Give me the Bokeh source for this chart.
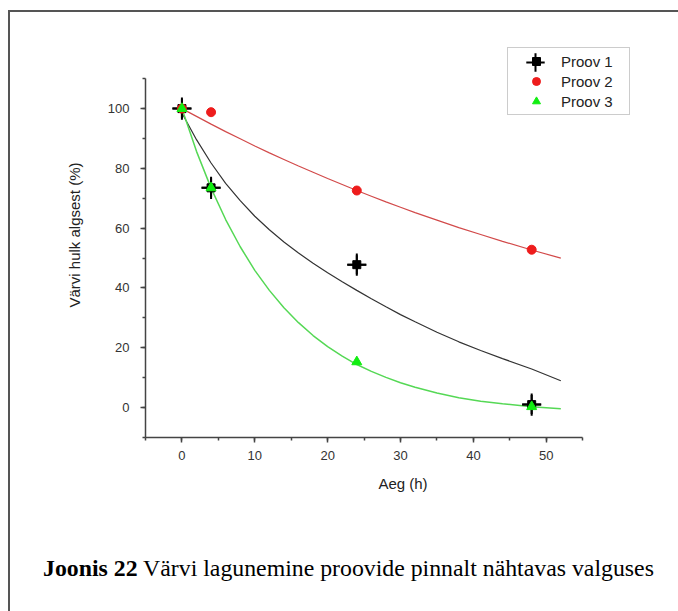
from bokeh.plotting import figure
from bokeh.layouts import column
from bokeh.models import (Range1d, SingleIntervalTicker, Legend, LegendItem,
                          ColumnDataSource, Div)
from bokeh.embed import file_html
from bokeh.resources import INLINE

# ---- data ----
time_h = [0, 4, 24, 48]
proov1 = [100, 73.5, 47.8, 1.0]
proov1_xerr = [1.3, 1.3, 1.3, 1.3]
proov1_yerr = [3.7, 3.7, 3.7, 3.7]
proov2 = [100, 98.8, 72.6, 52.8]
proov3 = [100, 73.5, 15.3, 0.3]

# fitted curves
fit_x = [0, 2, 4, 6, 8, 10, 12, 14, 16, 18, 20, 22, 24, 26, 28, 30, 32, 35, 38, 41, 44, 48, 52]
fit1 = [98.5, 89.6, 81.8, 75.0, 69.2, 64.0, 59.5, 55.4, 51.7, 48.3, 45.1, 42.1, 39.2,
        36.4, 33.7, 31.1, 28.7, 25.2, 22.0, 19.1, 16.4, 12.9, 9.0]
fit2 = [100, 97.4, 94.8, 92.3, 89.9, 87.5, 85.2, 83.0, 80.8, 78.7, 76.6, 74.6, 72.6,
        70.7, 68.8, 67.0, 65.2, 62.7, 60.2, 57.9, 55.6, 52.7, 50.0]
fit3 = [100, 85.7, 73.4, 62.9, 53.8, 45.9, 39.2, 33.4, 28.4, 24.1, 20.4, 17.2, 14.4,
        12.1, 10.1, 8.3, 6.8, 4.9, 3.3, 2.1, 1.3, 0.3, -0.4]

x_axis_bounds = (-5, 55)
y_axis_bounds = (-10, 110)
x_ticks_interval = 10
y_ticks_interval = 20

caption_bold = "Joonis 22"
caption_rest = "Värvi lagunemine proovide pinnalt nähtavas valguses"

FONT = "Liberation Sans"

p = figure(width=660, height=540, output_backend="svg", toolbar_location=None,
           x_range=Range1d(-5, 65.68), y_range=Range1d(-10, 125.45),
           min_border_left=135, min_border_right=10, min_border_top=20,
           min_border_bottom=115)
p.outline_line_color = None
p.xgrid.visible = False
p.ygrid.visible = False
p.background_fill_color = "white"
p.border_fill_color = "white"

for ax in (p.xaxis[0], p.yaxis[0]):
    ax.axis_line_color = "#444444"
    ax.axis_line_width = 1.5
    ax.major_tick_line_color = "#444444"
    ax.minor_tick_line_color = "#444444"
    ax.major_tick_line_width = 1.5
    ax.minor_tick_line_width = 1.5
    ax.major_tick_in = 0
    ax.major_tick_out = 5
    ax.minor_tick_in = 0
    ax.minor_tick_out = 3
    ax.major_label_text_font = FONT
    ax.major_label_text_font_size = "13px"
    ax.major_label_text_color = "#333333"
    ax.axis_label_text_font = FONT
    ax.axis_label_text_font_size = "15px"
    ax.axis_label_text_font_style = "normal"
    ax.axis_label_text_color = "#222222"

p.xaxis[0].bounds = x_axis_bounds
p.yaxis[0].bounds = y_axis_bounds
p.xaxis[0].ticker = SingleIntervalTicker(interval=x_ticks_interval, num_minor_ticks=2)
p.yaxis[0].ticker = SingleIntervalTicker(interval=y_ticks_interval, num_minor_ticks=2)
p.xaxis[0].axis_label = "Aeg (h)"
p.yaxis[0].axis_label = "Värvi hulk algsest (%)"
p.xaxis[0].major_label_standoff = 8
p.xaxis[0].axis_label_standoff = 12
p.yaxis[0].major_label_standoff = 11
p.yaxis[0].axis_label_standoff = 22

# curves
p.line(fit_x, fit1, line_color="#333333", line_width=1.2)
p.line(fit_x, fit2, line_color="#d24a4a", line_width=1.2)
p.line(fit_x, fit3, line_color="#55d855", line_width=1.5)

# Proov 1 with error bars
src1 = ColumnDataSource(dict(
    x=time_h, y=proov1,
    x0=[a - e for a, e in zip(time_h, proov1_xerr)],
    x1=[a + e for a, e in zip(time_h, proov1_xerr)],
    y0=[a - e for a, e in zip(proov1, proov1_yerr)],
    y1=[a + e for a, e in zip(proov1, proov1_yerr)],
))
p.segment(x0="x0", y0="y", x1="x1", y1="y", source=src1, line_color="black", line_width=2)
p.segment(x0="x", y0="y0", x1="x", y1="y1", source=src1, line_color="black", line_width=2)
# cross marker coincides with the error bars; used as the legend symbol
r1_leg = p.scatter(x="x", y="y", source=src1, marker="cross", size=19,
                   line_color="black", line_width=2)
r1 = p.scatter(x="x", y="y", source=src1, marker="square", size=8,
               fill_color="black", line_color="black")

r2 = p.scatter(time_h, proov2, marker="circle", size=9, fill_color="#ee1c1c", line_color="#ee1c1c")
r3 = p.scatter(time_h, proov3, marker="triangle", size=10, fill_color="#11ee11", line_color="#11ee11")

legend = Legend(items=[
    LegendItem(label="Proov 1", renderers=[r1]),
    LegendItem(label="Proov 2", renderers=[r2]),
    LegendItem(label="Proov 3", renderers=[r3]),
], location=(362, 322))
legend.label_text_font = FONT
legend.label_text_font_size = "15px"
legend.label_text_color = "#222222"
legend.border_line_color = "#999999"
legend.border_line_width = 1
legend.background_fill_alpha = 1
legend.padding = 3
legend.margin = 0
legend.spacing = 0
legend.glyph_width = 50
legend.glyph_height = 20
legend.label_height = 20
legend.label_standoff = 0
legend.label_width = 65
p.add_layout(legend)

# larger cross symbol for the Proov 1 legend entry (error-bar look)
legend_cross = Legend(items=[LegendItem(label="", renderers=[r1_leg])],
                      location=(367, 352))
legend_cross.padding = 0
legend_cross.margin = 0
legend_cross.spacing = 0
legend_cross.glyph_width = 46
legend_cross.glyph_height = 46
legend_cross.label_height = 46
legend_cross.label_width = 0
legend_cross.label_standoff = 0
legend_cross.border_line_color = None
legend_cross.background_fill_alpha = 0
p.add_layout(legend_cross)

cap = Div(
    text=('<div style="margin-left:28px; margin-top:-5px; white-space:nowrap; '
          'font-family:\'Liberation Serif\', serif; font-size:23.8px; color:black;">'
          f'<b>{caption_bold}</b> {caption_rest}</div>'),
    width=660, height=55)

layout = column(p, cap, margin=(10, 0, 0, 8), spacing=0,
                styles={"border-left": "2px solid #555555",
                        "border-top": "2px solid #555555"})

open("out.html", "w").write(file_html(layout, INLINE))
